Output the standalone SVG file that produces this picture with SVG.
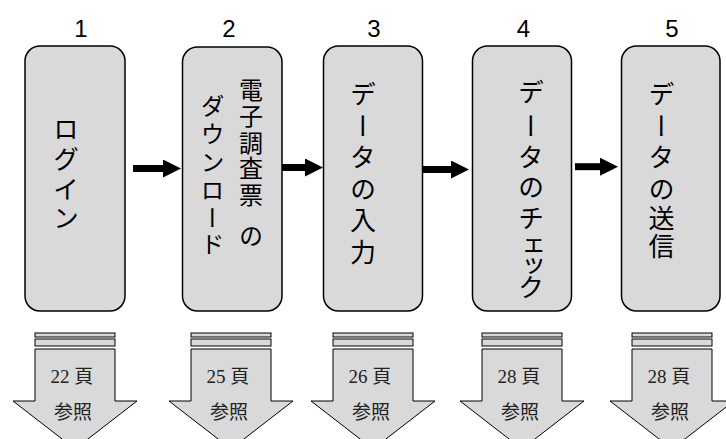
<svg xmlns="http://www.w3.org/2000/svg" xmlns:xlink="http://www.w3.org/1999/xlink" width="726" height="439" viewBox="0 0 726 439">
<style>
.box{fill:#d9d9d9;stroke:#000;stroke-width:1.5}
.num{font-family:"Liberation Sans","Noto Sans CJK JP",sans-serif;font-size:24px;fill:#000;text-anchor:middle}
.vt{font-family:"Noto Sans CJK JP",sans-serif;font-size:26px;fill:#000;writing-mode:vertical-rl}
.vs{font-size:24px}
.conn{stroke:#000;stroke-width:7;fill:none}
.ref{fill:#d9d9d9;stroke:#000;stroke-width:1}
.rt{font-family:"Liberation Serif","Noto Sans CJK JP",serif;font-size:19px;fill:#222;text-anchor:middle}
</style>
<defs>
<marker id="ah" markerUnits="userSpaceOnUse" markerWidth="18" markerHeight="18" refX="0" refY="9" orient="auto">
<path d="M0,0 L18,9 L0,18 Z" fill="#000"/>
</marker>
<g id="down">
<rect class="ref" x="-40" y="333" width="80" height="4"/>
<rect class="ref" x="-40" y="339" width="80" height="7"/>
<path class="ref" d="M-40,349 L40,349 L40,401 L62,401 L0,449 L-62,401 L-40,401 Z"/>
</g>
</defs>

<g id="node1">
<text class="num" x="81" y="37">1</text>
<rect class="box" x="25" y="46" width="100" height="265" rx="15"/>
<text class="vt" x="66" y="116 146 176 205">ログイン</text>
</g>
<g id="node2">
<text class="num" x="229" y="37">2</text>
<rect class="box" x="182.5" y="47" width="99.5" height="264" rx="15"/>
<text class="vt vs" x="251" y="78 104 131 156 183 224">電子調査票の</text>
<text class="vt vs" x="212.5" y="94 122 150 178 206 232">ダウンロード</text>
</g>
<g id="node3">
<text class="num" x="374" y="37">3</text>
<rect class="box" x="323.5" y="46" width="99" height="265" rx="15"/>
<text class="vt" x="363" y="81.5 113 144.5 176 207 239">データの入力</text>
</g>
<g id="node4">
<text class="num" x="523.5" y="37">4</text>
<rect class="box" x="472.5" y="46" width="99" height="265" rx="15"/>
<text class="vt" x="531" y="79.5 113 144.5 174 205 233 253 274">データのチェック</text>
</g>
<g id="node5">
<text class="num" x="672" y="37">5</text>
<rect class="box" x="621.5" y="46" width="98.5" height="265" rx="15"/>
<text class="vt" x="661.5" y="81.5 113 144.5 176 205 233">データの送信</text>
</g>

<g id="connectors">
<line class="conn" x1="133" y1="168.5" x2="163" y2="168.5" marker-end="url(#ah)"/>
<line class="conn" x1="282" y1="167.5" x2="305" y2="167.5" marker-end="url(#ah)"/>
<line class="conn" x1="422" y1="169.5" x2="451" y2="169.5" marker-end="url(#ah)"/>
<line class="conn" x1="575" y1="166.7" x2="600" y2="166.7" marker-end="url(#ah)"/>
</g>

<g id="ref1">
<use xlink:href="#down" transform="translate(75,0)"/>
<text class="rt" x="72" y="383">22 頁</text>
<text class="rt" x="73" y="419">参照</text>
</g>
<g id="ref2">
<use xlink:href="#down" transform="translate(231,0)"/>
<text class="rt" x="228" y="383">25 頁</text>
<text class="rt" x="229" y="419">参照</text>
</g>
<g id="ref3">
<use xlink:href="#down" transform="translate(373,0)"/>
<text class="rt" x="370" y="383">26 頁</text>
<text class="rt" x="371" y="419">参照</text>
</g>
<g id="ref4">
<use xlink:href="#down" transform="translate(522,0)"/>
<text class="rt" x="519" y="383">28 頁</text>
<text class="rt" x="520" y="419">参照</text>
</g>
<g id="ref5">
<use xlink:href="#down" transform="translate(672,0)"/>
<text class="rt" x="669" y="383">28 頁</text>
<text class="rt" x="670" y="419">参照</text>
</g>
</svg>
